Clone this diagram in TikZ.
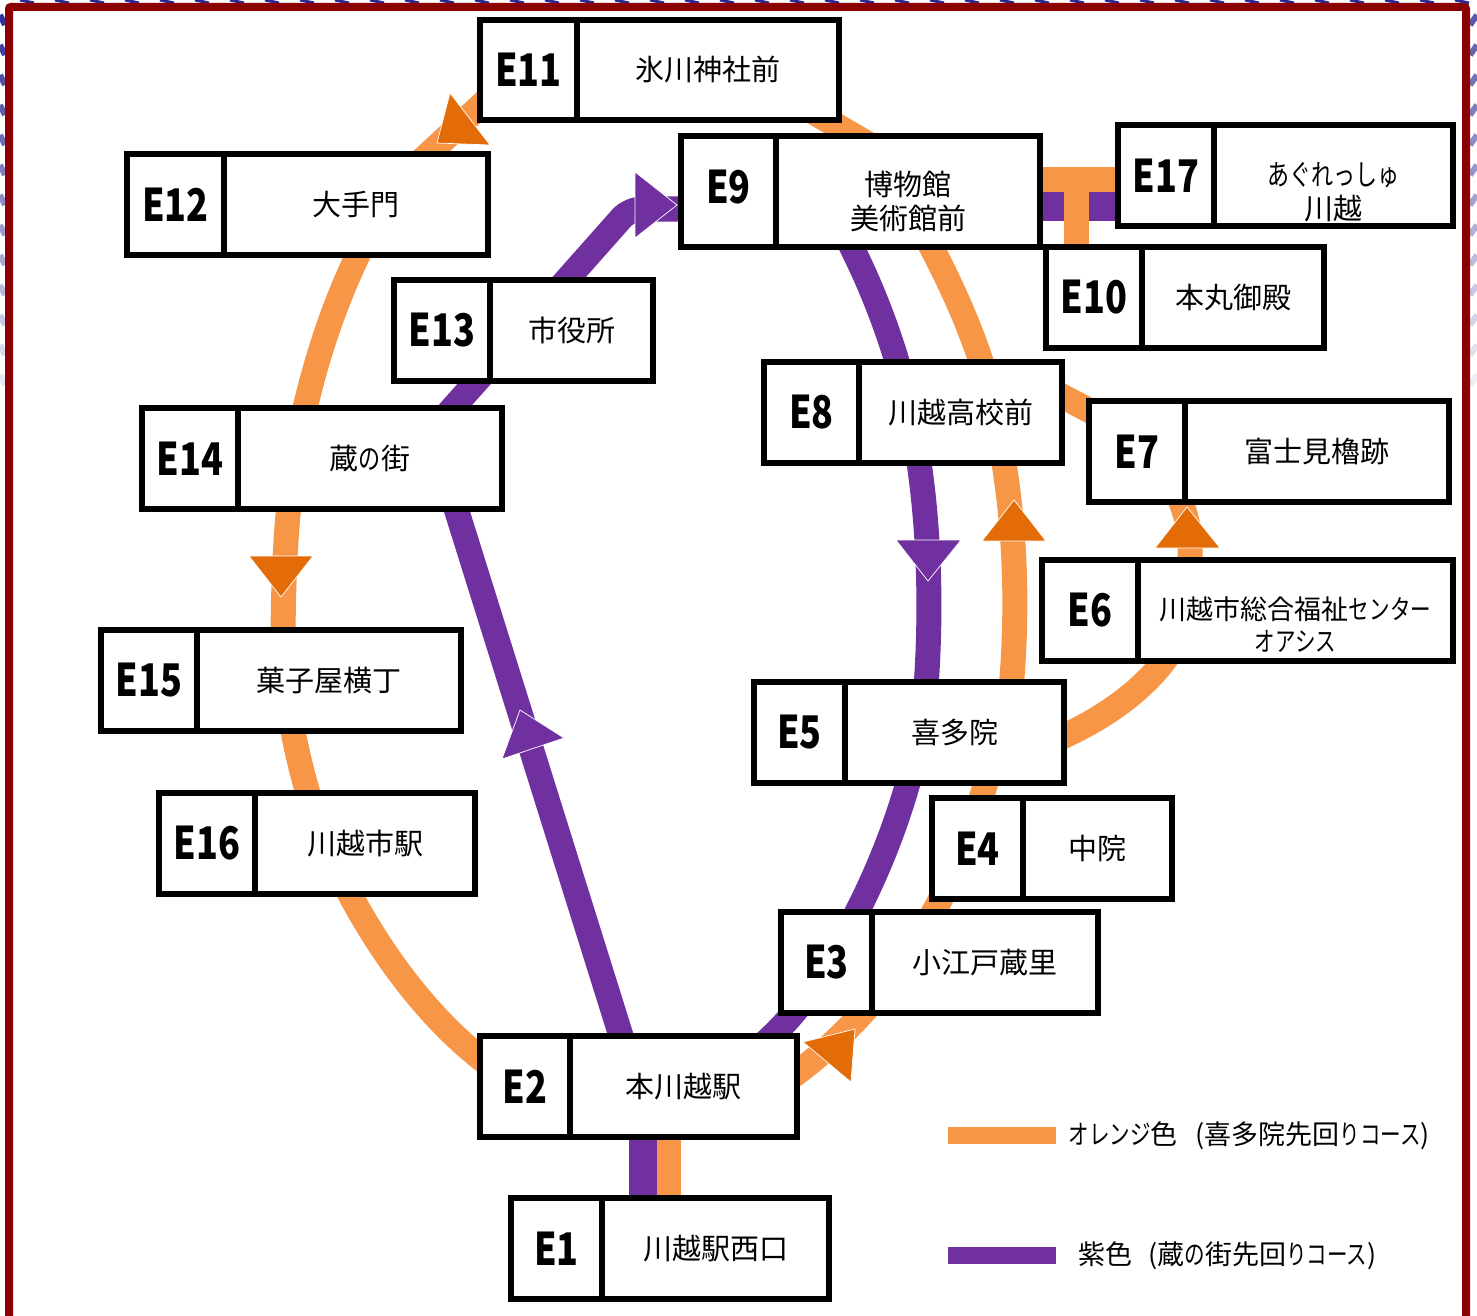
\documentclass[tikz,border=0pt]{standalone}
\usepackage{fontspec}
\usetikzlibrary{positioning,backgrounds}
\newfontfamily\jpfont{Noto Sans CJK JP}
\newfontfamily\kana[FakeStretch=0.76]{Noto Sans CJK JP}
\newfontfamily\codefont[FakeStretch=0.8]{Noto Sans CJK JP}
\definecolor{routeO}{HTML}{F79646}
\definecolor{routeP}{HTML}{7030A0}
\definecolor{tipO}{HTML}{E36C09}
\definecolor{frameR}{HTML}{8B0000}
\definecolor{bandB}{HTML}{2A2A96}
\renewcommand{\arraystretch}{0.97}
\newcommand{\lowtext}[2]{\raisebox{-#1}[0pt][0pt]{\begin{tabular}{@{}c@{}}#2\end{tabular}}}
\tikzset{
    codebox/.style={draw, line width=6.5pt, fill=white, anchor=north west, outer sep=0pt, inner sep=0pt,
        minimum height=101pt, font=\codefont\bfseries\fontsize{45}{47}\selectfont},
    namebox/.style={draw, line width=6.5pt, fill=white, outer sep=0pt, inner sep=0pt, align=center,
        minimum height=101pt, font=\jpfont\fontsize{29}{32}\selectfont},
    lineO/.style={routeO, line width=25pt},
    lineP/.style={routeP, line width=25pt},
    tipA/.style={fill=tipO, draw=white, line width=0.7pt},
    tipB/.style={fill=routeP, draw=white, line width=0.7pt},
    legendtext/.style={anchor=west, inner sep=0pt, font=\jpfont\fontsize{27}{30}\selectfont}
}
\begin{document}
\begin{tikzpicture}[x=1pt, y=-1pt]
    \useasboundingbox (0,0) rectangle (1477,1316);

    % patterned strip outside the frame
    \foreach \x in {20,55,...,1460} {
        \draw[bandB, line width=3pt] (\x,0) -- (\x+14,3);
    }
    \foreach \y [evaluate=\y as \o using {max(0.08,1-\y/420)}] in {15,45,...,390} {
        \draw[bandB, opacity=\o, line width=6pt] (0,\y) -- (5,\y+10);
        \draw[bandB, opacity=\o*0.8, line width=6pt] (1477,\y) -- (1470,\y+10);
    }
    \draw[frameR, line width=8pt, rounded corners=2pt] (9,7) rectangle (1466,1320);

    % stations
    \node (E1) [codebox, minimum width=91pt] at (511,1198) {E1};
    \node (E1n) [namebox, minimum width=227pt, right=0pt of E1] {川越駅西口};
    \node (E2) [codebox, minimum width=90pt] at (480,1036) {E2};
    \node (E2n) [namebox, minimum width=227pt, right=0pt of E2] {本川越駅};
    \node (E3) [codebox, minimum width=91pt] at (781,912) {E3};
    \node (E3n) [namebox, minimum width=226pt, right=0pt of E3] {小江戸蔵里};
    \node (E4) [codebox, minimum width=91pt] at (932,798) {E4};
    \node (E4n) [namebox, minimum width=149pt, right=0pt of E4] {中院};
    \node (E5) [codebox, minimum width=91pt] at (754,682) {E5};
    \node (E5n) [namebox, minimum width=219pt, right=0pt of E5] {喜多院};
    \node (E6) [codebox, minimum width=96pt] at (1042,560) {E6};
    \node (E6n) [namebox, minimum width=315pt, right=0pt of E6, font=\jpfont\fontsize{27}{33}\selectfont] {\lowtext{24.5pt}{川越市総合福祉{\kana センター}\\{\kana オアシス}}};
    \node (E7) [codebox, minimum width=96pt] at (1089,401) {E7};
    \node (E7n) [namebox, minimum width=264pt, right=0pt of E7] {富士見櫓跡};
    \node (E8) [codebox, minimum width=95pt] at (764,362) {E8};
    \node (E8n) [namebox, minimum width=203pt, right=0pt of E8] {川越高校前};
    \node (E9) [codebox, minimum width=95pt, minimum height=111pt] at (681,136) {\raisebox{4pt}[\height][\depth]{E9}};
    \node (E9n) [namebox, minimum width=264pt, minimum height=111pt, right=0pt of E9] {\lowtext{20pt}{博物館\\美術館前}};
    \node (E10) [codebox, minimum width=96pt] at (1046,247) {E10};
    \node (E10n) [namebox, minimum width=182pt, right=0pt of E10] {本丸御殿};
    \node (E11) [codebox, minimum width=97pt, minimum height=100pt] at (480,20) {E11};
    \node (E11n) [namebox, minimum width=262pt, minimum height=100pt, right=0pt of E11] {氷川神社前};
    \node (E12) [codebox, minimum width=97pt] at (127,154) {E12};
    \node (E12n) [namebox, minimum width=264pt, right=0pt of E12] {大手門};
    \node (E13) [codebox, minimum width=96pt] at (394,280) {E13};
    \node (E13n) [namebox, minimum width=163pt, right=0pt of E13] {市役所};
    \node (E14) [codebox, minimum width=96pt] at (142,408) {E14};
    \node (E14n) [namebox, minimum width=264pt, right=0pt of E14] {蔵{\kana の}街};
    \node (E15) [codebox, minimum width=96pt] at (101,630) {E15};
    \node (E15n) [namebox, minimum width=264pt, right=0pt of E15] {菓子屋横丁};
    \node (E16) [codebox, minimum width=96pt] at (159,793) {E16};
    \node (E16n) [namebox, minimum width=220pt, right=0pt of E16] {川越市駅};
    \node (E17) [codebox, minimum width=96pt] at (1118,125) {E17};
    \node (E17n) [namebox, minimum width=239pt, right=0pt of E17] {\lowtext{26pt}{{\kana あぐれっしゅ}\\川越}};

    \begin{scope}[on background layer]
        % purple course
        \draw[lineP, line width=28pt] ([shift={(-72.5,-28.5)}]E1n.center) -- ([shift={(-40.5,33.5)}]E2n.center);
        \draw[lineP] ([shift={(-56.5,-31.5)}]E2n.center) -- ([shift={(80.4,32)}]E14n.center);
        \draw[lineP] ([shift={(60,-25)}]E14n.center) -- ([shift={(-51.5,2)}]E13n.center);
        \draw[lineP, rounded corners=12pt] ([shift={(-51.5,2)}]E13n.center) -- ([shift={(-99,17.5)}]E9.center) -- ([shift={(-39,17.5)}]E9.center);
        \draw[lineP] ([shift={(-68,33.5)}]E9n.center) .. controls (865,270) and (890,330) .. ([shift={(-55.5,-22)}]E8n.center);
        \draw[lineP] ([shift={(-55.5,-22)}]E8n.center) .. controls (925,470) and (935,580) .. ([shift={(-29.5,-32.5)}]E5n.center);
        \draw[lineP] ([shift={(-29.5,-32.5)}]E5n.center) .. controls (915,780) and (885,860) .. ([shift={(23.5,-37)}]E3.center);
        \draw[lineP] ([shift={(23.5,-37)}]E3.center) .. controls (825,975) and (790,1030) .. ([shift={(46.5,-16.5)}]E2n.center);
        \draw[lineP, line width=29pt] ([shift={(122,15)}]E9n.center) -- ([shift={(-36,31)}]E17.center);
        % orange course
        \draw[lineO, line width=24pt] ([shift={(-46.5,-28.5)}]E1n.center) -- ([shift={(-14.5,33.5)}]E2n.center);
        \draw[lineO] ([shift={(96.5,-1.5)}]E2n.center) .. controls (905,1000) and (975,860) .. ([shift={(45.5,-12.5)}]E5n.center);
        \draw[lineO] ([shift={(85.5,13.5)}]E5n.center) .. controls (1105,722) and (1182,670) .. ([shift={(-105.5,-10.5)}]E6n.center);
        \draw[lineO] ([shift={(-105.5,-10.5)}]E6n.center) -- (1190,545) .. controls (1190,525) and (1183,505) .. ([shift={(35,28.5)}]E7.center);
        \draw[lineO] ([shift={(-7,-19.5)}]E7.center) -- ([shift={(79.5,-28)}]E8n.center);
        \draw[lineO] ([shift={(55.5,-32.5)}]E5n.center) .. controls (1018,620) and (1017,530) .. ([shift={(39.5,28)}]E8n.center);
        \draw[lineO] ([shift={(39.5,28)}]E8n.center) .. controls (990,370) and (960,300) .. ([shift={(17,43.5)}]E9n.center);
        \draw[lineO] ([shift={(122,-12)}]E9n.center) -- ([shift={(-36,4)}]E17.center);
        \draw[lineO] ([shift={(122,-12)}]E9n.center) -| ([shift={(-17.5,-32.5)}]E10.center);
        \draw[lineO] ([shift={(-38,-46.5)}]E9n.center) -- ([shift={(102.5,40.5)}]E11n.center);
        \draw[lineO] ([shift={(-31.5,20.5)}]E11.center) -- ([shift={(44,-24)}]E12n.center);
        \draw[lineO] ([shift={(9,36)}]E12n.center) .. controls (335,300) and (315,360) .. ([shift={(-70,-28)}]E14n.center);
        \draw[lineO] ([shift={(-70,-28)}]E14n.center) .. controls (290,480) and (283,540) .. ([shift={(-46,-30)}]E15n.center);
        \draw[lineO] ([shift={(-46,-30)}]E15n.center) .. controls (285,700) and (298,770) .. ([shift={(-45,-13.5)}]E16n.center);
        \draw[lineO] ([shift={(-45,-13.5)}]E16n.center) .. controls (360,930) and (430,1030) .. ([shift={(-13.5,-6.5)}]E2.center);
    \end{scope}

    % direction marks
    \draw[tipA] (450,93) -- (490,145) -- (437,143) -- cycle;
    \draw[tipA] (249,556) -- (313,556) -- (281,597) -- cycle;
    \draw[tipA] (1014,500) -- (1046,541) -- (982,541) -- cycle;
    \draw[tipA] (1187,507) -- (1220,548) -- (1155,548) -- cycle;
    \draw[tipA] (803,1042) -- (855,1029) -- (851,1082) -- cycle;
    \draw[tipB] (635,172) -- (677,205) -- (635,238) -- cycle;
    \draw[tipB] (520,710) -- (564,738) -- (502,759) -- cycle;
    \draw[tipB] (896,540) -- (961,540) -- (928,581) -- cycle;

    % legend
    \node (keyO) [fill=routeO, minimum width=108pt, minimum height=17pt, inner sep=0pt, anchor=west] at (948,1135.5) {};
    \node (keyP) [fill=routeP, minimum width=108pt, minimum height=17pt, inner sep=0pt, anchor=west] at (948,1255.5) {};
    \node (keyOt) [legendtext, right=12pt of keyO] {{\kana オレンジ}色\hspace{18pt}(喜多院先回{\kana りコース})};
    \node (keyPt) [legendtext, right=22pt of keyP] {紫色\hspace{16pt}(蔵{\kana の}街先回{\kana りコース})};
\end{tikzpicture}
\end{document}
